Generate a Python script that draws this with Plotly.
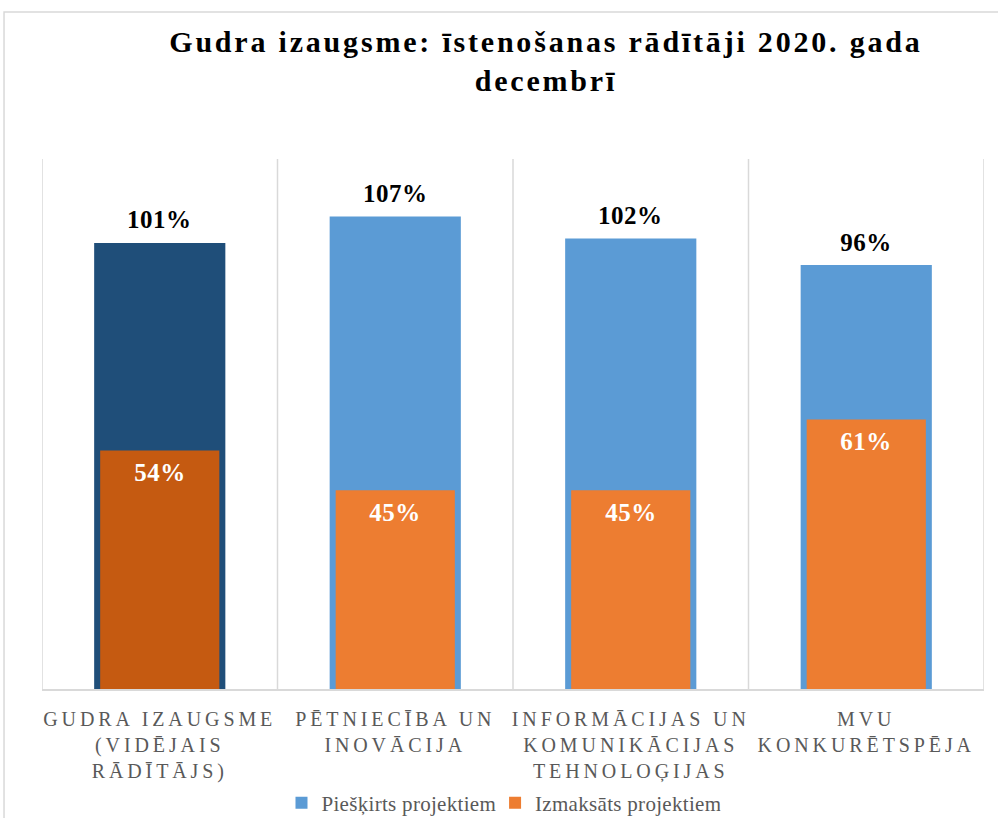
import plotly.graph_objects as go

categories = ["GUDRA IZAUGSME<br>(VIDĒJAIS<br>RĀDĪTĀJS)", "PĒTNIECĪBA UN<br>INOVĀCIJA",
              "INFORMĀCIJAS UN<br>KOMUNIKĀCIJAS<br>TEHNOLOĢIJAS", "MVU<br>KONKURĒTSPĒJA"]
allocated = [101, 107, 102, 96]
paid = [54, 45, 45, 61]
highlight = [True, False, False, False]   # average indicator drawn in darker shades
series_names = ["Piešķirts projektiem", "Izmaksāts projektiem"]
title_text = "Gudra izaugsme: īstenošanas rādītāji 2020. gada<br>decembrī"

COL_ALLOC, COL_ALLOC_DARK = "#5B9BD5", "#1F4E79"
COL_PAID, COL_PAID_DARK = "#ED7D31", "#C55A11"
GRID = "#d9d9d9"
SERIF = "Liberation Serif, Times New Roman, serif"

xpos = list(range(len(categories)))


def split(values, flag):
    xs = [x for x, h in zip(xpos, highlight) if h == flag]
    ys = [v for v, h in zip(values, highlight) if h == flag]
    return xs, ys


fig = go.Figure()
for values, name, col, dark, width in [(allocated, series_names[0], COL_ALLOC, COL_ALLOC_DARK, 0.557),
                                       (paid, series_names[1], COL_PAID, COL_PAID_DARK, 0.506)]:
    hx, hy = split(values, True)
    rx, ry = split(values, False)
    fig.add_trace(go.Bar(x=hx, y=hy, width=width, name=name, showlegend=False,
                         marker=dict(color=dark, line=dict(width=0)), hoverinfo="skip"))
    fig.add_trace(go.Bar(x=rx, y=ry, width=width, name=name, showlegend=True,
                         marker=dict(color=col, line=dict(width=0)), hoverinfo="skip"))

annotations = []
for i, v in enumerate(allocated):
    annotations.append(dict(x=i, y=v, xref="x", yref="y", text=f"{v}%", showarrow=False,
                            yshift=23, font=dict(family=SERIF, size=25, color="black", weight="bold")))
for i, v in enumerate(paid):
    annotations.append(dict(x=i, y=v, xref="x", yref="y", text=f"{v}%", showarrow=False,
                            yshift=-22, font=dict(family=SERIF, size=25, color="white", weight="bold")))

shapes = [dict(type="rect", xref="paper", yref="paper", x0=-0.0403, x1=1.2, y0=-0.5, y1=1.2774,
               line=dict(color=GRID, width=1.5), fillcolor="rgba(0,0,0,0)", layer="below")]
# vertical separators between categories
for b in [x - 0.5 for x in xpos] + [xpos[-1] + 0.5]:
    shapes.append(dict(type="line", xref="x", yref="paper", x0=b, x1=b, y0=0, y1=1,
                       line=dict(color=GRID, width=1.5), layer="below"))

fig.update_layout(
    width=998, height=818,
    margin=dict(l=42, r=14, t=159, b=129, autoexpand=False),
    paper_bgcolor="white", plot_bgcolor="white",
    barmode="overlay",
    showlegend=True,
    title=dict(text=title_text, x=0.547, xanchor="center", xref="container",
               y=0.936, yanchor="middle", yref="container",
               font=dict(family=SERIF, size=30, color="black", weight="bold")),
    legend=dict(orientation="h", x=0.502, xanchor="center", xref="container",
                y=0.0183, yanchor="middle", yref="container",
                font=dict(family=SERIF, size=21, color="#595959"),
                itemwidth=30, traceorder="normal"),
    annotations=annotations,
    shapes=shapes,
)
fig.update_xaxes(range=[-0.5, 3.5], tickvals=xpos, ticktext=categories, showgrid=False,
                 automargin=False, ticklabelstandoff=11,
                 tickfont=dict(family=SERIF, size=20, color="#595959"),
                 showline=True, linecolor=GRID, linewidth=1.5, ticks="", zeroline=False)
fig.update_yaxes(range=[0, 120], visible=False, showgrid=False, zeroline=False, automargin=False)

post = """
var st = document.createElement('style');
st.textContent = 'html,body{margin:0 !important;padding:0 !important;overflow:hidden;}' +
  '.xtick text{letter-spacing:3.9px;}' +
  '.gtitle{letter-spacing:2.8px;}' +
  '.legendtext{letter-spacing:0.3px;}' +
  '.annotation-text{letter-spacing:0.5px;}';
document.head.appendChild(st);
"""

fig.write_html("out.html", post_script=post, config={"displayModeBar": False})
